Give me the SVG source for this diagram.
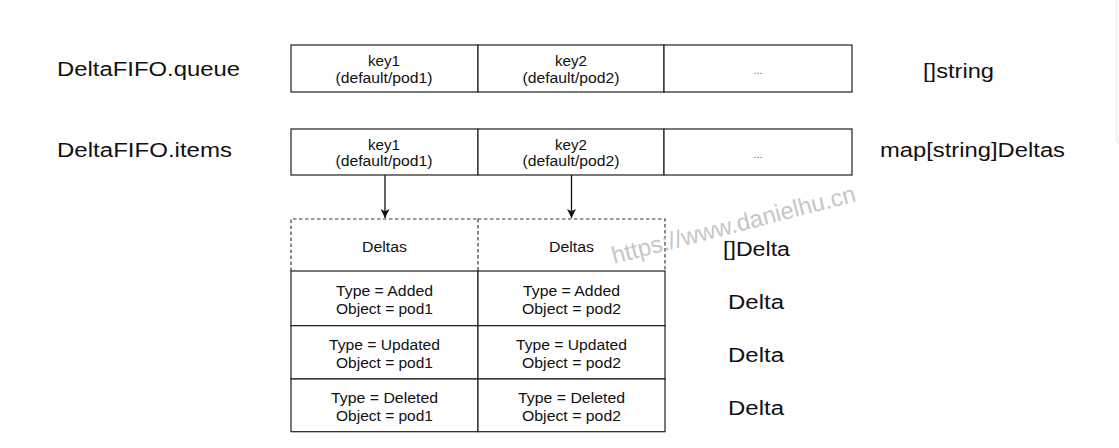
<svg xmlns="http://www.w3.org/2000/svg" width="1119" height="448" viewBox="0 0 1119 448">
  <defs>
    <style>
      .cell { fill: #ffffff; stroke: #1e1e1e; stroke-width: 1.2; }
      .dash { fill: none; stroke: #3a3a3a; stroke-width: 1.2; stroke-dasharray: 3.5 2.5; }
      .sm { font-family: "Liberation Sans", Arial, Helvetica, sans-serif; font-size: 14px; fill: #111; text-anchor: middle; }
      .dots { font-family: "Liberation Sans", Arial, sans-serif; font-size: 11px; fill: #666; text-anchor: middle; }
      .lg { font-family: "Liberation Sans", Arial, Helvetica, sans-serif; font-size: 20px; fill: #111; }
      .wm { font-family: "Liberation Sans", Arial, sans-serif; font-size: 24px; fill: #c6c6c6; }
      .conn { stroke: #111; stroke-width: 1.3; fill: none; }
    </style>
    <marker id="arrow" viewBox="0 0 10 10" refX="10" refY="5" markerWidth="9" markerHeight="9" markerUnits="userSpaceOnUse" orient="auto">
      <path d="M0,0 L10,5 L0,10 L2.5,5 Z" fill="#111"/>
    </marker>
  </defs>

  <rect width="1119" height="448" fill="#ffffff"/>

  <!-- edge of a side panel -->
  <rect x="1116" y="-10" width="20" height="155" rx="6" fill="#f7f7f5" stroke="#ececec"/>

  <!-- row titles -->
  <g id="label-queue">
    <text class="lg" x="57" y="76" textLength="183" lengthAdjust="spacingAndGlyphs">DeltaFIFO.queue</text>
  </g>
  <g id="label-items">
    <text class="lg" x="57" y="157" textLength="175" lengthAdjust="spacingAndGlyphs">DeltaFIFO.items</text>
  </g>

  <!-- DeltaFIFO.queue -->
  <g id="queue">
    <rect class="cell" x="291" y="45" width="187" height="47"/>
    <rect class="cell" x="478" y="45" width="186" height="47"/>
    <rect class="cell" x="664" y="45" width="188" height="47"/>
    <text class="sm" x="384" y="66" textLength="32" lengthAdjust="spacingAndGlyphs">key1</text>
    <text class="sm" x="384" y="82.5" textLength="97" lengthAdjust="spacingAndGlyphs">(default/pod1)</text>
    <text class="sm" x="571" y="66" textLength="32" lengthAdjust="spacingAndGlyphs">key2</text>
    <text class="sm" x="571" y="82.5" textLength="97" lengthAdjust="spacingAndGlyphs">(default/pod2)</text>
    <text class="dots" x="758" y="74">...</text>
  </g>

  <!-- DeltaFIFO.items -->
  <g id="items">
    <rect class="cell" x="291" y="129" width="187" height="46"/>
    <rect class="cell" x="478" y="129" width="186" height="46"/>
    <rect class="cell" x="664" y="129" width="188" height="46"/>
    <text class="sm" x="384" y="149.5" textLength="32" lengthAdjust="spacingAndGlyphs">key1</text>
    <text class="sm" x="384" y="166" textLength="97" lengthAdjust="spacingAndGlyphs">(default/pod1)</text>
    <text class="sm" x="571" y="149.5" textLength="32" lengthAdjust="spacingAndGlyphs">key2</text>
    <text class="sm" x="571" y="166" textLength="97" lengthAdjust="spacingAndGlyphs">(default/pod2)</text>
    <text class="dots" x="758" y="158">...</text>
  </g>

  <!-- type names on the right -->
  <g id="type-queue">
    <text class="lg" x="923" y="78" textLength="71" lengthAdjust="spacingAndGlyphs">[]string</text>
  </g>
  <g id="type-items">
    <text class="lg" x="880" y="157" textLength="185" lengthAdjust="spacingAndGlyphs">map[string]Deltas</text>
  </g>

  <!-- Deltas of pod1 -->
  <g id="deltas-pod1">
    <path class="dash" d="M291,271 V219 H478"/>
    <rect class="cell" x="291" y="271" width="187" height="54.7"/>
    <rect class="cell" x="291" y="325.7" width="187" height="53.3"/>
    <rect class="cell" x="291" y="379" width="187" height="52.7"/>
    <text class="sm" x="384.5" y="251.5" textLength="45" lengthAdjust="spacingAndGlyphs">Deltas</text>
    <text class="sm" x="384.5" y="296" textLength="97" lengthAdjust="spacingAndGlyphs">Type = Added</text>
    <text class="sm" x="384.5" y="313.5" textLength="97" lengthAdjust="spacingAndGlyphs">Object = pod1</text>
    <text class="sm" x="384.5" y="350" textLength="111" lengthAdjust="spacingAndGlyphs">Type = Updated</text>
    <text class="sm" x="384.5" y="367.5" textLength="97" lengthAdjust="spacingAndGlyphs">Object = pod1</text>
    <text class="sm" x="384.5" y="403" textLength="107" lengthAdjust="spacingAndGlyphs">Type = Deleted</text>
    <text class="sm" x="384.5" y="420.5" textLength="97" lengthAdjust="spacingAndGlyphs">Object = pod1</text>
  </g>

  <!-- Deltas of pod2 -->
  <g id="deltas-pod2">
    <path class="dash" d="M478,219 H665 V271 M478,219 V271"/>
    <rect class="cell" x="478" y="271" width="187" height="54.7"/>
    <rect class="cell" x="478" y="325.7" width="187" height="53.3"/>
    <rect class="cell" x="478" y="379" width="187" height="52.7"/>
    <text class="sm" x="571.5" y="251.5" textLength="45" lengthAdjust="spacingAndGlyphs">Deltas</text>
    <text class="sm" x="571.5" y="296" textLength="97" lengthAdjust="spacingAndGlyphs">Type = Added</text>
    <text class="sm" x="571.5" y="313.5" textLength="99" lengthAdjust="spacingAndGlyphs">Object = pod2</text>
    <text class="sm" x="571.5" y="350" textLength="111" lengthAdjust="spacingAndGlyphs">Type = Updated</text>
    <text class="sm" x="571.5" y="367.5" textLength="99" lengthAdjust="spacingAndGlyphs">Object = pod2</text>
    <text class="sm" x="571.5" y="403" textLength="107" lengthAdjust="spacingAndGlyphs">Type = Deleted</text>
    <text class="sm" x="571.5" y="420.5" textLength="99" lengthAdjust="spacingAndGlyphs">Object = pod2</text>
  </g>

  <!-- element type names -->
  <g id="type-deltas">
    <text class="lg" x="723" y="256" textLength="67" lengthAdjust="spacingAndGlyphs">[]Delta</text>
  </g>
  <g id="type-delta">
    <text class="lg" x="728" y="308.5" textLength="56" lengthAdjust="spacingAndGlyphs">Delta</text>
    <text class="lg" x="728" y="361.5" textLength="56" lengthAdjust="spacingAndGlyphs">Delta</text>
    <text class="lg" x="728" y="414.5" textLength="56" lengthAdjust="spacingAndGlyphs">Delta</text>
  </g>

  <!-- key to Deltas -->
  <g id="connectors">
    <line class="conn" x1="385" y1="175" x2="385" y2="218" marker-end="url(#arrow)"/>
    <line class="conn" x1="571.5" y1="175" x2="571.5" y2="218" marker-end="url(#arrow)"/>
  </g>

  <!-- site watermark -->
  <g id="watermark">
    <text class="wm" x="614" y="264" transform="rotate(-14.5 614 264)" textLength="251" lengthAdjust="spacingAndGlyphs">https://www.danielhu.cn</text>
  </g>
</svg>
